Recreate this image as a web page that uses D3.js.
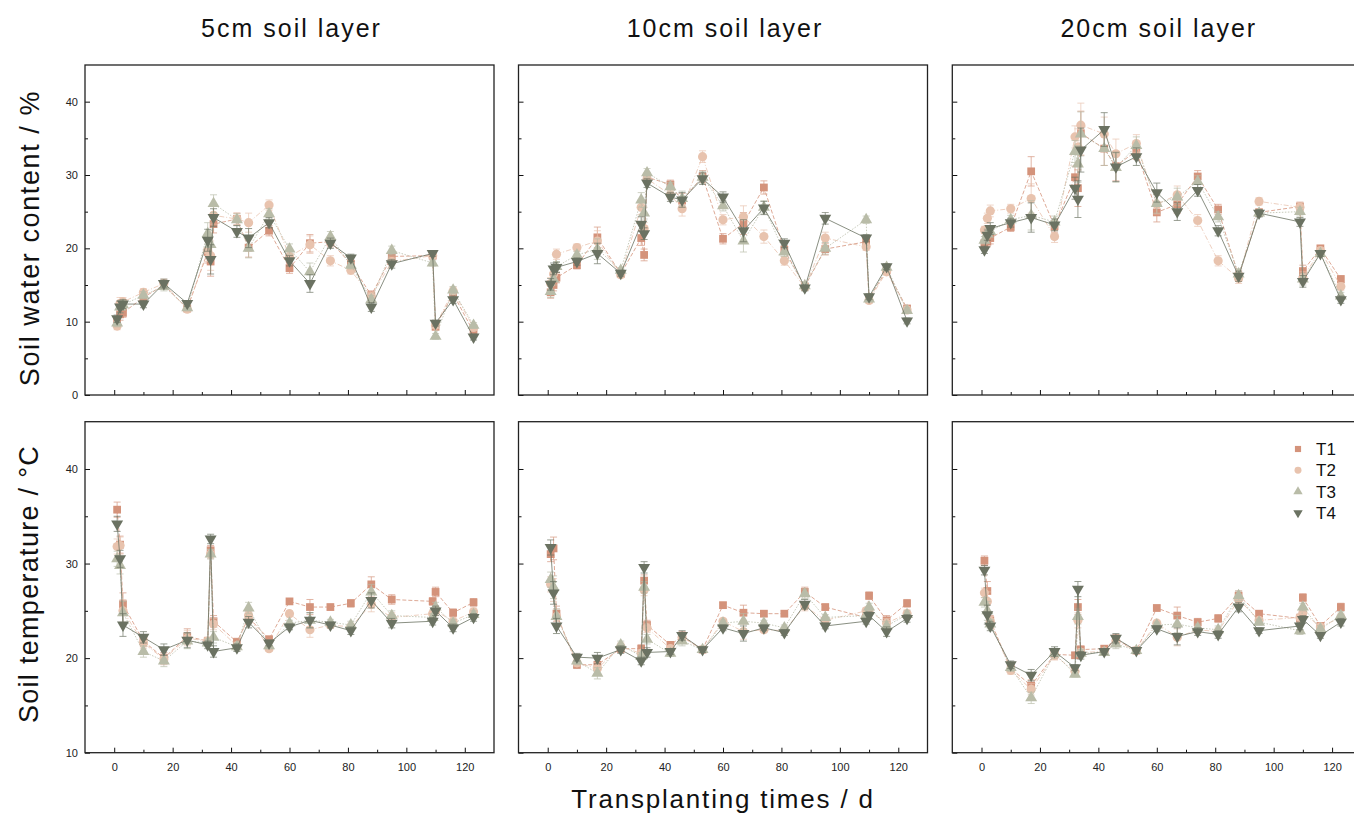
<!DOCTYPE html>
<html>
<head>
<meta charset="utf-8">
<script src="https://cdn.jsdelivr.net/npm/d3@7"></script>
<style>
    body { margin: 0; background: #fff; }
    text { font-family: "Liberation Sans", Arial, sans-serif; }
</style>
</head>
<body>
<div id="chart"></div>
<script>
// sampling days after transplanting
const days = [1, 2, 3, 10, 17, 25, 32, 33, 34, 42, 46, 53, 60, 67, 74, 81, 88, 95, 109, 110, 116, 123];

const seriesNames = ["T1", "T2", "T3", "T4"];
const layerTitles = ["5cm soil layer", "10cm soil layer", "20cm soil layer"];
const xTicks = [0, 20, 40, 60, 80, 100, 120];

// soil water content (%)
const water5_T1 = [10.0, 11.0, 11.2, 13.3, 15.0, 11.8, 19.5, 18.2, 23.3, 24.0, 20.1, 22.4, 17.3, 20.7, 20.9, 17.9, 13.6, 18.9, 19.0, 9.3, 13.8, 8.6];
const water5_T2 = [9.4, 12.5, 12.7, 14.0, 15.2, 11.7, 19.7, 19.0, 24.5, 24.0, 23.5, 25.9, 18.9, 20.5, 18.3, 17.0, 13.4, 18.2, 19.0, 9.5, 14.2, 9.2];
const water5_T3 = [9.8, 12.0, 12.3, 13.6, 14.8, 11.9, 22.0, 20.5, 26.1, 23.9, 20.0, 24.7, 19.9, 16.8, 21.6, 17.7, 13.0, 19.7, 18.0, 8.0, 14.3, 9.5];
const water5_T4 = [10.4, 12.0, 12.4, 12.4, 15.2, 12.5, 21.1, 18.5, 24.2, 22.3, 21.4, 23.5, 18.3, 15.2, 20.7, 18.7, 12.0, 17.9, 19.3, 9.8, 13.0, 7.9];
const water5Err = [0.5, 0.8, 0.6, 0.5, 0.6, 0.4, 1.5, 2.0, 1.2, 0.8, 1.3, 0.7, 0.7, 1.2, 0.7, 0.5, 0.6, 0.6, 0.4, 0.4, 0.5, 0.4];

const water10_T1 = [14.0, 15.0, 16.0, 17.7, 21.5, 16.5, 21.4, 19.1, 29.7, 28.7, 26.5, 29.8, 21.3, 23.4, 28.3, 19.8, 14.8, 19.9, 20.9, 13.2, 17.0, 11.8];
const water10_T2 = [15.2, 16.5, 19.2, 20.1, 21.0, 16.4, 25.6, 22.7, 29.5, 27.3, 25.4, 32.5, 23.9, 24.3, 21.6, 18.3, 14.7, 21.4, 20.2, 12.9, 16.8, 11.6];
const water10_T3 = [14.1, 15.8, 17.5, 19.1, 19.9, 17.0, 26.6, 24.8, 30.3, 28.4, 26.8, 29.7, 25.8, 21.0, 25.6, 19.5, 14.9, 20.0, 23.9, 13.1, 17.4, 11.5];
const water10_T4 = [15.1, 17.2, 17.4, 18.2, 19.3, 16.6, 23.3, 22.0, 28.9, 27.0, 26.6, 29.5, 27.0, 22.4, 25.5, 20.7, 14.6, 24.1, 21.4, 13.4, 17.5, 10.1];
const water10Err = [0.8, 0.8, 0.7, 0.5, 1.4, 0.4, 1.0, 0.8, 0.6, 0.6, 1.0, 0.8, 0.7, 1.5, 0.9, 0.6, 0.4, 0.8, 0.5, 0.4, 0.4, 0.4];

const water20_T1 = [20.7, 20.9, 21.4, 22.9, 30.5, 23.0, 29.7, 28.2, 35.7, 33.6, 31.2, 33.3, 24.9, 26.0, 29.8, 25.3, 16.2, 24.9, 25.7, 16.9, 20.0, 15.8];
const water20_T2 = [22.5, 24.1, 25.1, 25.4, 26.8, 21.6, 35.2, 33.8, 36.8, 35.6, 32.9, 34.3, 26.0, 27.3, 23.8, 18.3, 15.9, 26.4, 25.6, 16.0, 19.7, 14.8];
const water20_T3 = [21.1, 22.0, 22.3, 23.9, 24.5, 23.6, 33.2, 31.5, 35.6, 33.6, 31.0, 34.0, 26.1, 27.0, 29.1, 24.3, 16.5, 24.8, 25.0, 15.8, 19.3, 13.5];
const water20_T4 = [19.8, 21.8, 22.7, 23.5, 24.2, 23.2, 28.2, 26.7, 33.4, 36.2, 31.1, 32.5, 27.6, 25.0, 27.9, 22.4, 16.2, 24.8, 23.6, 15.5, 19.3, 13.0];
const water20Err = [0.5, 0.7, 0.8, 0.6, 2.0, 0.8, 1.5, 2.5, 3.0, 2.3, 2.0, 1.2, 1.3, 1.2, 0.8, 0.7, 0.7, 0.5, 0.6, 0.8, 0.4, 0.5];

// soil temperature (°C)
const temp5_T1 = [35.7, 32.0, 25.7, 21.8, 20.0, 22.3, 21.8, 31.4, 23.9, 21.7, 24.3, 22.0, 26.0, 25.4, 25.4, 25.8, 27.8, 26.2, 26.0, 27.0, 24.8, 25.9];
const temp5_T2 = [31.8, 31.9, 25.0, 21.6, 19.9, 22.1, 21.8, 31.0, 23.6, 21.3, 24.5, 21.0, 24.7, 23.0, 23.5, 23.3, 25.7, 24.3, 24.7, 25.0, 23.9, 24.9];
const temp5_T3 = [30.5, 29.8, 24.8, 20.7, 19.7, 21.8, 21.6, 31.0, 22.2, 21.2, 25.3, 21.3, 23.7, 24.0, 23.8, 23.5, 27.0, 24.5, 24.3, 25.4, 23.7, 24.6];
const temp5_T4 = [34.2, 30.5, 23.5, 22.2, 20.9, 21.9, 21.4, 32.6, 20.7, 21.1, 23.8, 21.6, 23.3, 24.0, 23.5, 22.9, 26.1, 23.7, 23.9, 25.0, 23.2, 24.3];
const temp5Err = [0.8, 0.9, 1.2, 0.6, 0.6, 0.8, 0.4, 0.5, 0.6, 0.4, 0.6, 0.3, 0.3, 0.8, 0.3, 0.4, 0.8, 0.5, 0.4, 0.5, 0.4, 0.4];

const temp10_T1 = [31.0, 31.6, 24.7, 19.3, 19.3, 21.0, 21.0, 28.2, 23.5, 21.4, 22.3, 20.9, 25.6, 24.8, 24.7, 24.7, 27.0, 25.4, 24.3, 26.6, 24.0, 25.8];
const temp10_T2 = [27.8, 27.2, 24.4, 19.5, 18.9, 21.2, 20.5, 27.2, 23.2, 21.0, 22.2, 20.9, 23.9, 22.8, 23.0, 22.9, 25.5, 24.0, 25.0, 25.0, 23.7, 24.7];
const temp10_T3 = [28.3, 27.5, 24.4, 19.7, 18.4, 21.4, 20.2, 27.5, 22.0, 20.5, 21.8, 20.9, 23.7, 23.9, 23.7, 23.2, 26.8, 24.3, 24.5, 25.4, 23.4, 24.6];
const temp10_T4 = [31.7, 26.9, 23.4, 20.1, 20.0, 20.9, 19.7, 29.6, 20.6, 20.7, 22.4, 20.9, 23.2, 22.6, 23.2, 22.7, 25.7, 23.4, 23.9, 24.5, 22.8, 24.2];
const temp10Err = [0.8, 1.2, 0.8, 0.4, 0.6, 0.4, 0.4, 0.6, 0.5, 0.3, 0.5, 0.3, 0.3, 0.8, 0.3, 0.3, 0.5, 0.3, 0.3, 0.4, 0.5, 0.4];

const temp20_T1 = [30.3, 27.1, 24.0, 18.9, 17.1, 20.4, 20.3, 25.4, 20.9, 21.0, 22.0, 20.8, 25.3, 24.5, 23.8, 24.2, 26.6, 24.7, 24.2, 26.4, 23.4, 25.4];
const temp20_T2 = [26.9, 26.0, 23.9, 18.7, 16.7, 20.3, 18.6, 24.0, 20.6, 20.7, 21.8, 20.8, 23.7, 22.2, 23.0, 22.8, 26.2, 24.0, 24.3, 24.8, 23.3, 24.3];
const temp20_T3 = [25.9, 25.0, 23.6, 19.0, 15.8, 20.5, 18.3, 24.4, 20.5, 20.6, 21.5, 20.8, 23.5, 23.6, 23.2, 23.0, 26.6, 23.8, 22.9, 25.4, 23.1, 24.5];
const temp20_T4 = [29.3, 24.6, 23.4, 19.3, 18.2, 20.7, 19.0, 27.3, 20.3, 20.7, 22.1, 20.8, 23.1, 22.3, 22.8, 22.5, 25.4, 22.9, 23.4, 24.1, 22.4, 23.8];
const temp20Err = [0.5, 1.0, 0.5, 0.4, 0.6, 0.5, 0.3, 0.8, 0.4, 0.3, 0.5, 0.3, 0.3, 0.9, 0.4, 0.4, 0.5, 0.3, 0.4, 0.4, 0.3, 0.4];

// ---- layout / styles
const width = 1354, height = 813;
const colLeft = [85, 518.5, 952.3];
const panelW = 409;
const rowTop = [65, 421.7];
const panelH = [330, 331];

const colors = ["#d4937b", "#e8c3ae", "#b9bca8", "#6b7262"];
const dashes = ["4,2", "5,2,1,2", "1.5,1.5", null];
const symbols = [d3.symbolSquare, d3.symbolCircle, d3.symbolTriangle, d3.symbolTriangle];
const symSize = [60, 66, 62, 62];

const panels = [
    { row: 0, col: 0, series: [water5_T1, water5_T2, water5_T3, water5_T4], err: water5Err },
    { row: 0, col: 1, series: [water10_T1, water10_T2, water10_T3, water10_T4], err: water10Err },
    { row: 0, col: 2, series: [water20_T1, water20_T2, water20_T3, water20_T4], err: water20Err },
    { row: 1, col: 0, series: [temp5_T1, temp5_T2, temp5_T3, temp5_T4], err: temp5Err },
    { row: 1, col: 1, series: [temp10_T1, temp10_T2, temp10_T3, temp10_T4], err: temp10Err },
    { row: 1, col: 2, series: [temp20_T1, temp20_T2, temp20_T3, temp20_T4], err: temp20Err }
];

const yDomains = [[0, 45], [10, 45]];
const yMajor = [[0, 10, 20, 30, 40], [10, 20, 30, 40]];
const yMinor = [[5, 15, 25, 35], [15, 25, 35]];

const svg = d3.select("#chart").append("svg")
    .attr("width", width)
    .attr("height", height);

panels.forEach(function (p) {
    const w = panelW, h = panelH[p.row];
    const g = svg.append("g").attr("transform", "translate(" + colLeft[p.col] + "," + rowTop[p.row] + ")");

    const x = d3.scaleLinear().domain([-10, 130]).range([0, w]);
    const y = d3.scaleLinear().domain(yDomains[p.row]).range([h, 0]);

    // ticks (inward)
    const xAxis = d3.axisBottom(x).tickValues(xTicks).tickSizeInner(-5).tickSizeOuter(0).tickPadding(11);
    if (p.row === 0) xAxis.tickFormat("");
    const xg = g.append("g").attr("transform", "translate(0," + h + ")").call(xAxis);
    const xm = g.append("g").attr("transform", "translate(0," + h + ")")
        .call(d3.axisBottom(x).tickValues([10, 30, 50, 70, 90, 110]).tickSizeInner(-3).tickSizeOuter(0).tickFormat(""));

    const yAxis = d3.axisLeft(y).tickValues(yMajor[p.row]).tickSizeInner(-5).tickSizeOuter(0).tickPadding(7);
    if (p.col > 0) yAxis.tickFormat("");
    const yg = g.append("g").call(yAxis);
    const ym = g.append("g").call(d3.axisLeft(y).tickValues(yMinor[p.row]).tickSizeInner(-3).tickSizeOuter(0).tickFormat(""));

    [xg, xm, yg, ym].forEach(function (a) {
        a.select(".domain").remove();
        a.selectAll("line").attr("stroke", "#111").attr("stroke-width", 1);
        a.selectAll("text").attr("fill", "#222").style("font-size", "11px");
    });

    g.append("rect")
        .attr("width", w).attr("height", h)
        .attr("fill", "none")
        .attr("stroke", "#222")
        .attr("stroke-width", 1.3);

    p.series.forEach(function (vals, si) {
        const pts = days.map((d, i) => ({ d: d, v: vals[i], e: p.err[i] }));
        const sg = g.append("g");

        // error bars
        const eb = sg.selectAll(".eb").data(pts).enter().append("g")
            .attr("stroke", colors[si]).attr("stroke-width", 0.8).attr("opacity", 0.85);
        eb.append("line")
            .attr("x1", d => x(d.d)).attr("x2", d => x(d.d))
            .attr("y1", d => y(d.v - d.e)).attr("y2", d => y(d.v + d.e));
        eb.append("line")
            .attr("x1", d => x(d.d) - 3.5).attr("x2", d => x(d.d) + 3.5)
            .attr("y1", d => y(d.v + d.e)).attr("y2", d => y(d.v + d.e));
        eb.append("line")
            .attr("x1", d => x(d.d) - 3.5).attr("x2", d => x(d.d) + 3.5)
            .attr("y1", d => y(d.v - d.e)).attr("y2", d => y(d.v - d.e));

        const line = d3.line().x(d => x(d.d)).y(d => y(d.v));
        sg.append("path")
            .datum(pts)
            .attr("d", line)
            .attr("fill", "none")
            .attr("stroke", colors[si])
            .attr("stroke-width", 0.8)
            .attr("stroke-dasharray", dashes[si]);

        sg.selectAll(".pt").data(pts).enter().append("path")
            .attr("d", d3.symbol().type(symbols[si]).size(symSize[si]))
            .attr("transform", d => "translate(" + x(d.d) + "," + y(d.v) + ")" + (si === 3 ? " rotate(180)" : ""))
            .attr("fill", colors[si]);
    });
});

// column titles
layerTitles.forEach(function (t, i) {
    svg.append("text")
        .attr("x", colLeft[i] + panelW / 2 + 2)
        .attr("y", 37)
        .attr("text-anchor", "middle")
        .style("font-size", "25px")
        .style("letter-spacing", "2px")
        .attr("fill", "#111")
        .text(t);
});

// axis titles
svg.append("text")
    .attr("transform", "translate(39," + 238 + ") rotate(-90)")
    .attr("text-anchor", "middle")
    .style("font-size", "27px")
    .style("letter-spacing", "1.6px")
    .attr("fill", "#111")
    .text("Soil water content / %");

svg.append("text")
    .attr("transform", "translate(38," + 584 + ") rotate(-90)")
    .attr("text-anchor", "middle")
    .style("font-size", "27px")
    .style("letter-spacing", "1.3px")
    .attr("fill", "#111")
    .text("Soil temperature / °C");

svg.append("text")
    .attr("x", 723)
    .attr("y", 808)
    .attr("text-anchor", "middle")
    .style("font-size", "26px")
    .style("letter-spacing", "1.8px")
    .attr("fill", "#111")
    .text("Transplanting times / d");

// legend
const legend = svg.append("g").attr("transform", "translate(1298,449)");
seriesNames.forEach(function (n, i) {
    const lg = legend.append("g").attr("transform", "translate(0," + (i * 21.3) + ")");
    lg.append("path")
        .attr("d", d3.symbol().type(symbols[i]).size(38))
        .attr("transform", i === 3 ? "rotate(180)" : null)
        .attr("fill", colors[i]);
    lg.append("text")
        .attr("x", 18)
        .attr("dy", "0.36em")
        .style("font-size", "17px")
        .attr("fill", "#111")
        .text(n);
});
</script>
</body>
</html>
